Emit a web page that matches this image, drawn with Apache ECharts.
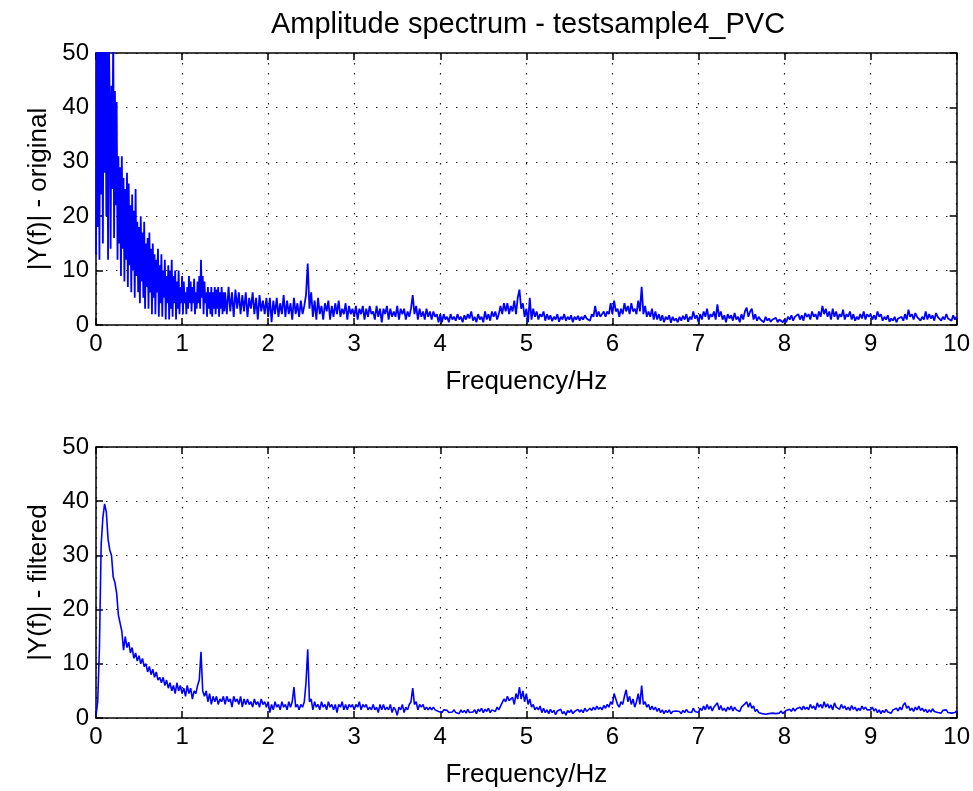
<!DOCTYPE html>
<html><head><meta charset="utf-8">
<script src="https://cdn.jsdelivr.net/npm/echarts@6/dist/echarts.min.js"></script>
<style>html,body{margin:0;padding:0;background:#fff}#c{width:973px;height:791px}</style>
</head><body><div id="c"></div>
<script>
const chartTitle = 'Amplitude spectrum - testsample4_PVC';
const xName = 'Frequency/Hz';
const yNameTop = '|Y(f)| - original';
const yNameBottom = '|Y(f)| - filtered';
const lowBandStep = 0.01;   // Hz between bins, 0 - 1.49 Hz (original)
const highBandStart = 1.5;  // Hz
const highBandStep = 0.02;  // Hz between bins, 1.5 - 10 Hz (original)
const filteredStep = 0.02;  // Hz between bins (filtered)
const xTickInterval = 1;
const yTickInterval = 10;
const xMax = 10;
const yMax = 50;

// |Y(f)| original, 0.00 .. 1.49 Hz (0.01 Hz apart), 25 per row
const originalLow = [
13,52,18,58,12,60,24,55,15,62,28,54,20,57,12,52,40,14,44,25,55,16,43,22,41,
12,31,15,29,9,31,14,27,8,25,12,28,7,26,11,22,6,24,10,21,5,25,9,19,6,
18,4,20,8,17,5,19,3,15,7,16,3,17,6,14,2,15,5,13,2,12,6,14,1.5,11,
4,13,1.5,10,5,12,1,9,4,11,1,10,3,12,1.5,9,4,10,1,8,3,10,2,7,4,
9,2,8,4,6,2,7,3,9,4,8,2.5,7,4,8.5,2,6,3,8,4,9,3,12,5,9,
2,8,4,6,1.5,7,3,6,2,7,1.5,6,3,7,2,6.5,3,7,1.5,6,3,7,2,6,2.5
];

// |Y(f)| original, 1.50 .. 10.00 Hz (0.02 Hz apart), 25 per row = 0.5 Hz
const originalHigh = [
6,2,7,2.5,6,1.5,6.5,3,6,2,5.5,2.5,6,1.5,5,3,6,2,5,1,5.5,2.5,4.5,2,5,
1.5,5,0.5,4.5,2,5,1.5,4,2,5.5,1.5,4.5,2,4,1,5,2,4,1.5,4.5,2,3.5,5.5,11.3,3,
6,1.5,4.5,1,5,2,3.5,1,4,2.5,4.5,1,3.5,1.5,4,2,4.5,1.5,3,2,4,1,3.5,2,3,
1.5,3.5,1,3,2,3.5,1,3,1.5,3.5,2,2.5,1,3.5,1.5,3,0.5,3,2,3.5,1,3,1.5,2.5,1.5,
3.5,1,3,2,3,1,2.5,1.5,3,5.5,2,3.5,1,3,1.5,2.5,1,3,1.5,2.5,1,2.5,1.5,2,0.5,
2,0.5,2,1,1.5,0.5,2,1,1.5,0.8,2,1,1.5,0.5,1.8,1,2,1.2,2.5,0.8,1.5,0.5,2,1,1.5,
0.5,2.5,1,2,0.8,2.5,1.5,2.5,1,2,3.5,2,4,2.5,4,2,3.5,2.5,4.5,2,5,6.5,3,4,1.5,
3,0.5,5,1,3,1.5,2.5,1,2,1.5,2.5,0.8,2,1,1.8,0.7,1.5,1,2,0.6,1.5,1,2,0.8,1.5,
1,1.8,0.5,1.5,1,1.7,0.8,1.5,1,1.8,1.2,1.5,0.8,2,1.5,3.5,1.5,2.5,1.5,2,2.5,1.5,2.5,2,4,
2,4.5,2.5,3,1.5,3,2,4,2.5,3.5,2,4,2.5,3,2,4.5,2.5,7,2,3.5,1.5,2.5,1.5,3,1,
2.5,1,2,0.8,1.8,0.5,1.5,1,1.8,0.4,1.5,0.8,1.2,0.5,1.5,0.8,1.7,1,2,0.6,1.5,1,2.5,1.2,1.8,
0.5,2,1,2.5,1.5,3,1,2,1.5,2.5,1,3.8,1.5,2.5,1,1.8,0.5,2,1.2,1.8,0.8,2.2,1,1.5,0.5,
2,1,2.5,3.2,1.5,2.5,3,1,2,0.8,1.5,1,1.2,0.5,1.5,0.8,1.2,0.6,1,0.8,1.3,0.5,1,0.7,0.5,
1,0.5,1.5,1,1.8,0.8,1.5,1.2,2,1,1.8,0.8,2.2,1.5,2,1,2.5,1.5,2,1,2.5,1.5,3.5,2,3,
1.5,2.5,1,3,1.5,2.5,1,2,1.5,2.8,1,2,1.5,2.5,1,2,0.8,1.5,1,2,1.2,2.5,1,2,1.5,
2,1,1.8,1,2.5,1.5,2,0.8,1.5,1,1.8,0.6,1.2,0.8,1.5,0.5,1.2,1,1.5,0.8,2,1,2.8,1.5,2,
1,2.2,1.5,1.8,0.8,1.5,1,2.5,1,2,1.2,1.8,0.8,2.2,1.5,1.8,0.8,1.5,1,2,1.2,1.5,0.8,1.8,1,
1.5
];

// |Y(f)| filtered, 0.00 .. 10.00 Hz (0.02 Hz apart)
const filtered = [
0.5,3,13,32,37,39.5,38,33,31,30,26,25,23,19,17.5,16,12.5,15,13,14,12,13,11,12,10.5,
11.5,10,11,9.5,10,8.5,9.5,8,9,7.5,8.5,7,7.5,6.5,7.5,6,7,5.5,6.5,5,6,4.5,6.5,5,6,
4.5,5.5,4,6,4.5,5.5,3.5,5,4.5,6,7,12.2,5,4,5,3,4.5,2.5,4,3,4,2.5,3.5,3,4,
2.5,4,3,3.5,2,4,3,3.5,2.5,4,2,3.5,2.5,3.5,2.5,3,2,3.5,2.5,3,2,3.5,2.5,3,2,
3,1,2.5,1.5,3,2,2.5,1.5,3,2,2.5,1.5,3,2,3,5.7,2,2.5,1.5,2.5,2,3,6.5,12.7,3,
3.5,1.5,3,2,2.5,1.5,3,2,2.5,1.5,3,2,2.5,1.5,2.5,1,2.5,2,3,1.5,2.5,1.5,2.5,2,2.5,
1.5,2.5,2,3,1.5,2.5,2,2.5,1.5,2,1.5,2.5,1.5,2,1,2.5,1.5,2.5,1.5,2,1.5,2.5,1,2,1.5,
0.5,2,1.5,2.5,1,2,1.5,2.5,3,5.5,2.5,3,1.5,2.5,2,2.5,1.5,2,1.5,2,1.5,2,1.5,1.8,1.2,
1.5,1,1.5,1.2,1.4,1,1.3,1.1,1.5,1,1.3,0.8,1.5,1,1.4,0.9,1.6,1,1.3,1.1,1.5,0.8,1.6,1.2,1.8,
1,1.6,1.2,1.8,1,1.5,1.8,1.2,2,1.5,2.2,2.5,3.5,3,4,3.2,3,3.8,2.5,4.5,3.5,5.7,3.5,5,3,
4.5,2.5,3.5,2,2.5,1.5,2,1.5,2.2,1,1.8,1,1.5,0.8,1.6,1,1.4,0.6,1.3,1,1.6,0.8,1.2,0.5,1.4,
1,1.5,0.8,1.2,1,1.6,1.1,1.5,1,1.8,1.2,1.5,1.8,1.4,2,1.5,2.2,1.6,2,1.5,2.3,1.8,2.5,2,3,
2.5,4.5,3.5,2.5,2,3,2.5,4,5.2,3,4,2.5,3.5,2,3,4.5,2.5,6,2.5,3,2,2.5,1.5,2.2,1.5,
2,1.2,1.8,1,1.5,0.8,1.4,1,1.5,0.8,1.2,0.9,1.3,1,1.2,0.8,1.4,1,1.6,1.1,1.3,1,1.8,1.2,1.5,
1,1.8,1.4,2.2,1.5,2.5,1.6,2.2,1.3,2,1.8,2.8,1.5,2.3,1.4,1.8,1.2,2,1.5,2.2,1.3,2,1.5,1.8,1.2,
2,1.8,2.6,3,2,2.8,1.8,2.2,1.2,1.6,1,1.3,0.8,1.1,0.7,1,0.8,1.1,0.9,1.2,0.8,1,0.9,1.3,0.8,
1,1.4,1.1,1.6,1.2,1.8,1.3,1.7,1.4,2,1.5,2.2,1.6,2,1.5,2.5,1.8,2.2,1.5,2.8,2,2.5,1.8,3,2,
2.6,1.8,2.4,1.5,2.8,2,2.3,1.6,2.5,1.8,2.2,1.5,2,1.4,2.3,1.6,2,1.3,1.8,1.4,2.2,1.6,2,1.5,1.8,
1.5,2,1.3,1.7,1,1.5,0.8,1.4,1,1.6,1.1,1.3,0.9,1.5,1.2,1.8,1.3,2,1.5,2.4,2.8,1.8,2.2,1.4,1.8,
1.2,2,1.5,2.2,1.4,1.8,1.2,1.6,1,1.5,1.1,1.7,1.2,1.5,1,1.3,0.9,1.4,1.1,1.5,1,1.3,0.9,1.2,1,
1.3
];

if (originalLow.length !== 150 || originalHigh.length !== 426 || filtered.length !== 501) {
  throw new Error('lengths ' + originalLow.length + ' ' + originalHigh.length + ' ' + filtered.length);
}

const originalData = [
  ...originalLow.map((v, i) => [+(i * lowBandStep).toFixed(2), v]),
  ...originalHigh.map((v, i) => [+(highBandStart + i * highBandStep).toFixed(2), v])
];
const filteredData = filtered.map((v, i) => [+(i * filteredStep).toFixed(2), v]);

const FONT = '"Liberation Sans", Arial, Helvetica, sans-serif';
const BLACK = '#000';
const GRID_DOT = { color: '#1a1a1a', width: 1.2, type: [1.5, 8.5] };
const TICK_FS = 24;
const NAME_FS = 26;

const grids = [
  { left: 96, top: 53, width: 861, height: 272 },
  { left: 96, top: 447, width: 861, height: 271 }
];

function xAxesFor(gi) {
  return [
    {
      type: 'value', gridIndex: gi, min: 0, max: xMax, interval: xTickInterval, position: 'bottom',
      axisLine: { show: true, onZero: false, lineStyle: { color: BLACK, width: 1.5 } },
      axisTick: { show: true, inside: true, length: 7, lineStyle: { color: BLACK, width: 1.5 } },
      axisLabel: { color: BLACK, fontSize: TICK_FS, margin: 7, fontFamily: FONT },
      splitLine: { show: true, lineStyle: GRID_DOT },
      name: xName, nameLocation: 'middle', nameGap: 44,
      nameTextStyle: { color: BLACK, fontSize: NAME_FS, fontFamily: FONT }
    },
    {
      type: 'value', gridIndex: gi, min: 0, max: xMax, interval: xTickInterval, position: 'top',
      axisLine: { show: true, onZero: false, lineStyle: { color: BLACK, width: 1.5 } },
      axisTick: { show: true, inside: true, length: 7, lineStyle: { color: BLACK, width: 1.5 } },
      axisLabel: { show: false }, splitLine: { show: false }
    }
  ];
}
function yAxesFor(gi, name) {
  return [
    {
      type: 'value', gridIndex: gi, min: 0, max: yMax, interval: yTickInterval, position: 'left',
      axisLine: { show: true, onZero: false, lineStyle: { color: BLACK, width: 1.5 } },
      axisTick: { show: true, inside: true, length: 7, lineStyle: { color: BLACK, width: 1.5 } },
      axisLabel: { color: BLACK, fontSize: TICK_FS, margin: 7, fontFamily: FONT },
      splitLine: { show: true, lineStyle: GRID_DOT },
      name: name, nameLocation: 'middle', nameGap: 40,
      nameTextStyle: { color: BLACK, fontSize: NAME_FS, fontFamily: FONT }
    },
    {
      type: 'value', gridIndex: gi, min: 0, max: yMax, interval: yTickInterval, position: 'right',
      axisLine: { show: true, onZero: false, lineStyle: { color: BLACK, width: 1.5 } },
      axisTick: { show: true, inside: true, length: 7, lineStyle: { color: BLACK, width: 1.5 } },
      axisLabel: { show: false }, splitLine: { show: false }
    }
  ];
}

const chart = echarts.init(document.getElementById('c'), null, { renderer: 'canvas' });
chart.setOption({
  backgroundColor: '#fff',
  animation: false,
  title: {
    text: chartTitle, left: 523, top: 5, textAlign: 'center',
    textStyle: { color: BLACK, fontSize: 29, fontWeight: 'normal', fontFamily: FONT }
  },
  grid: grids,
  xAxis: [...xAxesFor(0), ...xAxesFor(1)],
  yAxis: [...yAxesFor(0, yNameTop), ...yAxesFor(1, yNameBottom)],
  series: [
    {
      type: 'line', xAxisIndex: 0, yAxisIndex: 0, showSymbol: false, clip: true,
      data: originalData,
      lineStyle: { color: '#0000ff', width: 1.8 }, z: 3
    },
    {
      type: 'line', xAxisIndex: 2, yAxisIndex: 2, showSymbol: false, clip: true,
      data: filteredData,
      lineStyle: { color: '#0000ff', width: 1.6 }, z: 3
    }
  ]
});
</script>
</body></html>
